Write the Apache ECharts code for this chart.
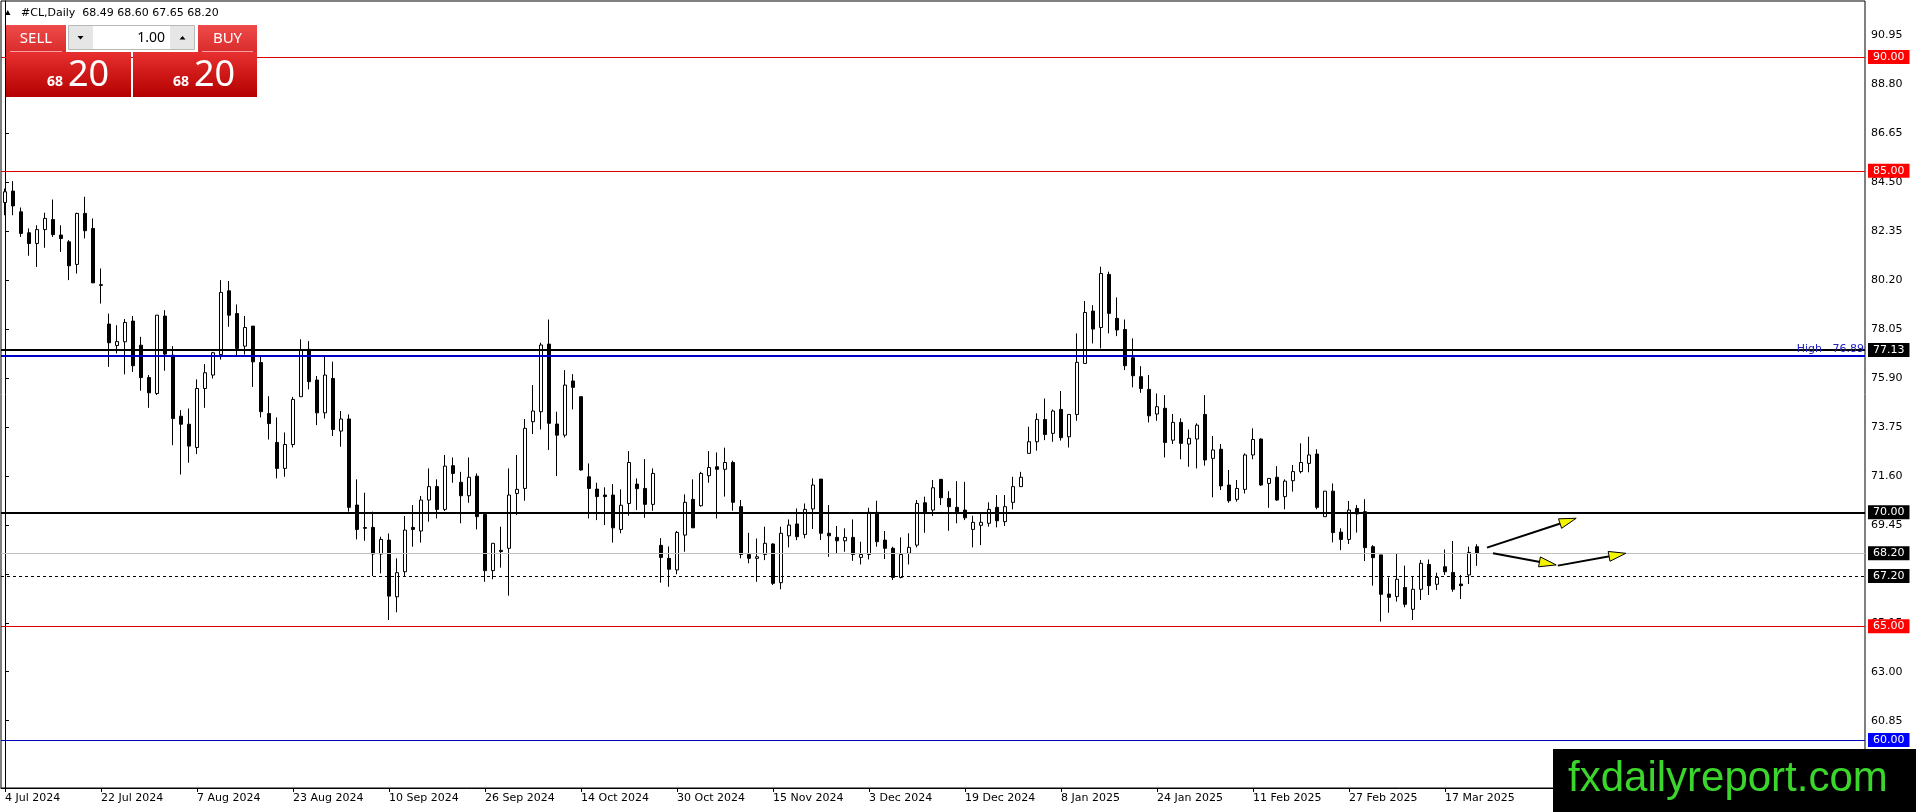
<!DOCTYPE html>
<html><head><meta charset="utf-8">
<script src="https://cdn.jsdelivr.net/npm/echarts@6/dist/echarts.min.js"></script>
<style>html,body{margin:0;padding:0;background:#fff;overflow:hidden}#c{width:1916px;height:812px}</style>
</head><body><div id="c"></div>
<script>
// ---- data ----
const opens = [83.61,84.11,83.20,82.28,81.81,82.42,82.86,82.18,81.88,80.89,83.13,82.47,80.00,78.27,77.33,77.49,78.40,77.34,75.92,75.22,
78.62,76.90,74.22,73.87,72.85,75.44,76.03,76.93,79.73,78.73,77.30,78.18,76.58,74.34,73.07,71.93,72.98,75.08,77.16,75.81,
74.37,75.88,73.57,74.10,70.32,69.33,69.34,68.17,68.78,66.29,67.39,69.34,69.18,70.54,71.13,70.13,72.05,71.32,70.73,71.59,
69.91,67.44,68.33,68.42,70.83,71.05,73.98,74.42,77.39,73.88,73.39,75.77,75.08,71.56,71.02,70.76,70.76,69.25,70.39,71.24,
71.05,70.35,68.55,67.98,67.47,69.00,70.57,70.29,71.61,72.00,71.89,72.19,70.25,68.15,67.98,68.15,68.61,66.91,68.97,69.49,
69.03,70.15,71.46,69.08,68.90,68.75,68.90,68.02,68.15,70.00,68.78,68.42,67.14,68.20,68.56,70.42,70.10,71.45,70.61,70.22,
70.10,69.25,69.43,69.52,70.22,69.59,70.44,71.13,72.59,73.10,74.08,73.47,74.52,73.32,74.30,76.54,78.84,78.12,80.45,78.52,
78.03,76.79,75.96,75.40,74.32,74.57,73.17,73.95,73.00,73.22,74.30,72.37,72.77,71.20,70.57,71.01,72.52,73.22,71.27,71.54,
70.69,71.39,71.79,72.15,72.56,69.81,70.93,69.13,68.81,70.17,70.03,68.49,68.13,66.41,66.30,66.70,65.74,66.62,67.71,66.84,
67.61,67.36,66.85,67.25,68.49];
const highs = [84.22,84.55,83.39,82.47,82.61,83.16,83.74,82.61,81.96,83.16,83.86,82.91,80.71,78.73,78.22,78.49,78.62,77.71,76.03,78.66,
78.88,77.30,74.49,74.56,75.84,76.51,77.05,80.20,80.16,79.13,78.63,78.18,76.83,75.10,74.17,73.51,75.07,77.60,77.52,75.99,
76.91,76.62,74.45,74.30,71.45,70.86,70.03,68.93,69.07,67.98,69.84,70.32,70.72,71.93,71.45,72.52,72.41,71.78,72.41,71.71,
69.91,68.64,69.37,71.93,72.52,74.10,75.59,77.45,78.47,74.42,76.25,76.07,75.08,72.15,71.30,71.10,71.24,71.01,72.69,71.49,
72.34,71.93,68.87,68.50,69.18,70.79,71.45,71.78,72.69,72.63,72.84,72.27,70.54,69.10,68.85,69.37,68.64,69.37,69.69,70.17,
70.39,71.49,71.46,70.32,69.40,69.30,69.69,68.71,70.20,70.51,69.18,68.49,68.90,69.08,70.54,70.69,71.42,71.45,70.93,71.37,
71.34,69.85,70.00,70.44,70.76,70.76,71.56,71.78,73.76,74.35,75.00,74.52,75.33,74.30,77.86,79.28,79.10,80.79,80.57,79.44,
78.47,77.64,76.42,76.03,75.22,75.15,74.32,74.13,73.64,73.91,75.15,73.35,73.00,71.86,71.42,72.59,73.69,73.25,71.49,72.03,
71.45,72.08,73.03,73.32,72.77,70.93,71.27,69.30,70.50,70.32,70.58,68.56,68.13,67.14,68.20,67.66,67.17,67.91,67.93,67.35,
68.37,68.74,67.25,68.49,68.60];
const lows = [83.05,83.05,82.10,81.27,80.78,81.62,82.10,81.44,80.20,80.49,82.03,80.08,79.17,76.39,76.98,76.06,76.17,75.34,74.59,75.15,
76.22,72.95,71.66,72.18,72.56,74.59,75.88,76.71,78.15,76.86,76.93,75.51,74.17,73.20,71.49,71.56,72.85,75.08,75.40,73.83,
74.12,73.35,72.88,70.03,68.81,68.75,67.20,67.32,65.27,65.61,67.20,68.49,68.67,69.59,69.73,70.06,71.30,69.52,70.42,69.25,
66.95,67.06,67.57,66.34,69.88,70.51,73.44,73.64,72.74,71.59,73.29,74.52,71.83,69.73,69.66,69.44,68.67,69.08,69.85,70.10,
69.76,70.07,66.91,66.73,67.28,68.27,69.32,70.25,71.30,69.73,70.69,70.07,67.98,67.76,66.95,67.90,66.81,66.62,68.46,68.78,
68.86,69.27,68.78,68.05,68.17,68.27,67.87,67.71,67.93,68.49,67.95,67.03,67.10,67.71,68.46,69.10,69.84,70.32,69.19,69.52,
69.66,68.46,68.56,69.37,69.34,69.40,70.13,71.13,72.59,72.71,73.17,73.10,73.15,72.85,74.02,76.54,77.42,77.20,77.86,77.74,
76.25,75.49,75.25,73.95,74.02,72.41,73.00,72.33,72.00,71.93,72.05,70.66,70.98,70.42,70.47,70.83,72.33,71.17,70.20,70.51,
70.13,70.91,71.71,71.76,70.13,69.81,68.68,68.34,68.61,69.11,67.86,66.78,65.20,65.59,66.08,65.83,65.27,66.15,66.37,66.59,
67.25,66.51,66.19,66.85,67.65];
const closes = [84.08,83.46,82.25,81.81,82.42,82.91,82.20,82.03,80.83,83.13,82.37,80.08,79.97,77.45,77.50,78.34,76.44,75.92,75.25,78.66,
76.95,74.12,73.87,72.91,75.44,76.13,77.01,79.66,78.66,77.20,78.12,76.61,74.42,73.90,71.93,72.98,74.96,77.13,75.74,74.37,
76.03,73.64,74.10,70.22,69.25,69.30,68.17,68.81,66.32,67.35,69.22,69.25,70.54,71.13,70.13,72.03,71.71,70.73,71.54,69.81,
67.44,68.64,68.28,70.76,71.01,73.69,74.45,77.35,73.91,73.39,75.59,75.49,71.86,71.05,70.69,70.69,69.32,70.31,72.19,71.04,
70.35,71.71,68.02,67.50,69.12,70.44,69.32,71.71,71.97,71.89,72.19,70.44,68.15,67.98,68.05,68.64,66.88,69.08,69.44,68.93,
70.13,71.20,69.08,68.97,68.75,68.90,68.15,68.15,70.00,68.71,68.42,67.14,68.15,68.46,70.39,70.03,71.08,70.64,70.25,70.03,
69.76,69.56,69.56,70.13,69.63,70.25,71.13,71.54,73.10,74.08,73.42,74.45,73.28,74.30,76.59,78.78,78.05,80.49,78.74,78.01,
76.44,76.00,75.44,74.24,74.64,73.07,73.95,73.03,73.25,73.83,72.30,72.74,71.16,70.51,71.05,72.52,73.20,71.20,71.49,70.54,
71.37,71.79,72.19,72.52,70.22,70.93,69.11,68.81,70.10,69.93,68.45,68.01,66.40,66.27,67.06,65.96,66.62,67.76,66.78,67.14,
67.39,66.62,66.78,68.24,68.20];
const dateLabels = ['4 Jul 2024','22 Jul 2024','7 Aug 2024','23 Aug 2024','10 Sep 2024','26 Sep 2024','14 Oct 2024','30 Oct 2024',
'15 Nov 2024','3 Dec 2024','19 Dec 2024','8 Jan 2025','24 Jan 2025','11 Feb 2025','27 Feb 2025','17 Mar 2025'];
const yTickLabels = [60.85,63.00,65.15,67.30,69.45,71.60,73.75,75.90,78.05,80.20,82.35,84.50,86.65,88.80,90.95];
const levelValues = [90.00, 85.00, 77.13, 76.89, 70.00, 68.20, 67.20, 65.00, 60.00];
const arrowSegments = [[185.25,68.45,196.4,69.74],[186.0,68.20,193.9,67.69],[194.1,67.66,202.6,68.20]];
const headerText = '#CL,Daily  68.49 68.60 67.65 68.20';
const tradeLots = '1.00';
const bidBig = '20', bidSmall = '68';
const watermark = 'fxdailyreport.com';
const slotCount = 233; // bars + chart shift area

// ---- build ----
const cats = Array.from({length: slotCount}, (_, i) => String(i));
const candles = opens.map((o, i) => [o, closes[i], lows[i], highs[i]]);
const isLabel = (i) => i % 12 === 0 && (i / 12) < dateLabels.length;

const lvlStyle = {
  90: {c:'#e00000', w:1, t:'solid', bg:'#ff0000'},
  85: {c:'#e00000', w:1, t:'solid', bg:'#ff0000'},
  77.13: {c:'#000000', w:2, t:'solid', bg:'#000000'},
  76.89: {c:'#0000cc', w:2, t:'solid', bg:null, txt:'High   76.89'},
  70: {c:'#000000', w:2, t:'solid', bg:'#000000'},
  68.2: {c:'#c0c0c0', w:1, t:'solid', bg:'#000000'},
  67.2: {c:'#000000', w:1, t:[3,3], bg:'#000000'},
  65: {c:'#e00000', w:1, t:'solid', bg:'#ff0000'},
  60: {c:'#0000c0', w:1, t:'solid', bg:'#0000ff'}
};
const markData = levelValues.map(v => {
  const s = lvlStyle[v];
  const label = s.bg ? {
    show:true, position:'end', distance:3, formatter: v.toFixed(2), color:'#fff',
    backgroundColor: s.bg, padding:[1,5,1,5], fontFamily:'DejaVu Sans', fontSize:11, lineHeight:12
  } : {
    show:true, position:'insideEndTop', distance:1, formatter: s.txt, color:'#2020c0',
    fontFamily:'DejaVu Sans', fontSize:11
  };
  return {yAxis: v, lineStyle:{color:s.c, width:s.w, type:s.t}, label};
});

const chart = echarts.init(document.getElementById('c'), null, {renderer:'canvas'});
const redGrad = new echarts.graphic.LinearGradient(0,0,0,1,[{offset:0,color:'#e83030'},{offset:1,color:'#b40000'}]);
const btnGrad = new echarts.graphic.LinearGradient(0,0,0,1,[{offset:0,color:'#ee4a4a'},{offset:1,color:'#da2c2c'}]);

chart.setOption({
  animation:false,
  backgroundColor:'#fff',
  grid:{left:1, right:51, top:1, bottom:24, show:true, borderColor:'#000', borderWidth:1, backgroundColor:'transparent'},
  xAxis:[{
    type:'category', data:cats, boundaryGap:true,
    axisLine:{show:true, lineStyle:{color:'#000', width:1}},
    axisTick:{show:true, alignWithLabel:true, interval:(i)=>isLabel(i), length:4, lineStyle:{color:'#000'}},
    axisLabel:{interval:(i)=>isLabel(i), formatter:(v,i)=> isLabel(i) ? dateLabels[i/12] : '',
      align:'left', margin:5, color:'#000', fontFamily:'DejaVu Sans', fontSize:11},
    splitLine:{show:false}
  },{
    type:'value', min:-0.5, max:slotCount-0.5, show:false
  }],
  yAxis:{
    type:'value', position:'right', min:57.892, max:92.46, scale:true,
    axisLine:{show:true, lineStyle:{color:'#000', width:1}},
    axisTick:{show:true, customValues:yTickLabels, length:4, lineStyle:{color:'#000'}},
    axisLabel:{customValues:yTickLabels, formatter:(v)=>Number(v).toFixed(2), margin:6, color:'#000',
      fontFamily:'DejaVu Sans', fontSize:11},
    splitLine:{show:false}
  },
  series:[{
    type:'candlestick', data:candles, barWidth:4, xAxisIndex:0, yAxisIndex:0,
    itemStyle:{color:'#ffffff', color0:'#000000', borderColor:'#000000', borderColor0:'#000000', borderColorDoji:'#000000', borderWidth:1},
    emphasis:{disabled:true}, silent:true,
    markLine:{symbol:'none', silent:true, animation:false, data:markData}
  },{
    type:'custom', xAxisIndex:1, yAxisIndex:0, data:arrowSegments, silent:true, z:5,
    encode:{x:[0,2], y:[1,3]},
    renderItem:(params, api) => {
      const p0 = api.coord([api.value(0), api.value(1)]);
      const p1 = api.coord([api.value(2), api.value(3)]);
      const dx = p1[0]-p0[0], dy = p1[1]-p0[1];
      const len = Math.hypot(dx, dy), ux = dx/len, uy = dy/len;
      const hl = 17, hw = 5;
      const bx = p1[0]-ux*hl, by = p1[1]-uy*hl, nx = -uy, ny = ux;
      return {type:'group', children:[
        {type:'line', shape:{x1:p0[0], y1:p0[1], x2:bx+ux*2, y2:by+uy*2}, style:{stroke:'#000', lineWidth:2}},
        {type:'polygon', shape:{points:[[p1[0],p1[1]],[bx+nx*hw,by+ny*hw],[bx-nx*hw,by-ny*hw]]},
          style:{fill:'#f4f400', stroke:'#000', lineWidth:1}}
      ]};
    }
  }],
  graphic:[
    {type:'polygon', z:100, shape:{points:[[5,15],[10.5,15],[7.75,10]]}, style:{fill:'#000'}},
    {type:'text', z:100, style:{x:21, y:13.5, text:headerText, font:'11px "DejaVu Sans"', fill:'#000', verticalAlign:'middle'}},
    // SELL button
    {type:'rect', z:100, shape:{x:6, y:25, width:60, height:27}, style:{fill:btnGrad}},
    {type:'line', z:101, shape:{x1:10, y1:51.5, x2:62, y2:51.5}, style:{stroke:'#f5a0a0', lineWidth:1}},
    {type:'text', z:101, style:{x:36, y:38.5, text:'SELL', font:'15px "Noto Sans"', fill:'#fff', align:'center', verticalAlign:'middle'}},
    // lot spinner
    {type:'rect', z:100, shape:{x:68.5, y:25.5, width:126, height:24}, style:{fill:'#e6e6e6', stroke:'#b8b8b8', lineWidth:1}},
    {type:'rect', z:101, shape:{x:93, y:26, width:77, height:23}, style:{fill:'#fff'}},
    {type:'polygon', z:101, shape:{points:[[77.5,36],[83.5,36],[80.5,39.5]]}, style:{fill:'#000'}},
    {type:'polygon', z:101, shape:{points:[[179.5,39.5],[185.5,39.5],[182.5,36]]}, style:{fill:'#000'}},
    {type:'text', z:101, style:{x:165, y:38, text:tradeLots, font:'14px "Noto Sans"', fill:'#000', align:'right', verticalAlign:'middle'}},
    // BUY button
    {type:'rect', z:100, shape:{x:198, y:25, width:59, height:27}, style:{fill:btnGrad}},
    {type:'line', z:101, shape:{x1:202, y1:51.5, x2:253, y2:51.5}, style:{stroke:'#f5a0a0', lineWidth:1}},
    {type:'text', z:101, style:{x:227.5, y:38.5, text:'BUY', font:'15px "Noto Sans"', fill:'#fff', align:'center', verticalAlign:'middle'}},
    // price boxes
    {type:'rect', z:100, shape:{x:6, y:52, width:125, height:45}, style:{fill:redGrad}},
    {type:'rect', z:100, shape:{x:133, y:52, width:124, height:45}, style:{fill:redGrad}},
    {type:'text', z:101, style:{x:47, y:82, text:bidSmall, font:'bold 14px "Noto Sans"', fill:'#fff', verticalAlign:'middle'}},
    {type:'text', z:101, style:{x:68, y:76, text:bidBig, font:'36px "Noto Sans"', fill:'#fff', verticalAlign:'middle'}},
    {type:'text', z:101, style:{x:173, y:82, text:bidSmall, font:'bold 14px "Noto Sans"', fill:'#fff', verticalAlign:'middle'}},
    {type:'text', z:101, style:{x:194, y:76, text:bidBig, font:'36px "Noto Sans"', fill:'#fff', verticalAlign:'middle'}},
    // watermark
    {type:'rect', z:100, shape:{x:1553, y:749, width:363, height:63}, style:{fill:'#000'}},
    {type:'text', z:101, style:{x:1568, y:779, text:watermark, font:'42px "Liberation Sans"', fill:'#3bd62c', verticalAlign:'middle'}}
  ]
});
</script></body></html>
